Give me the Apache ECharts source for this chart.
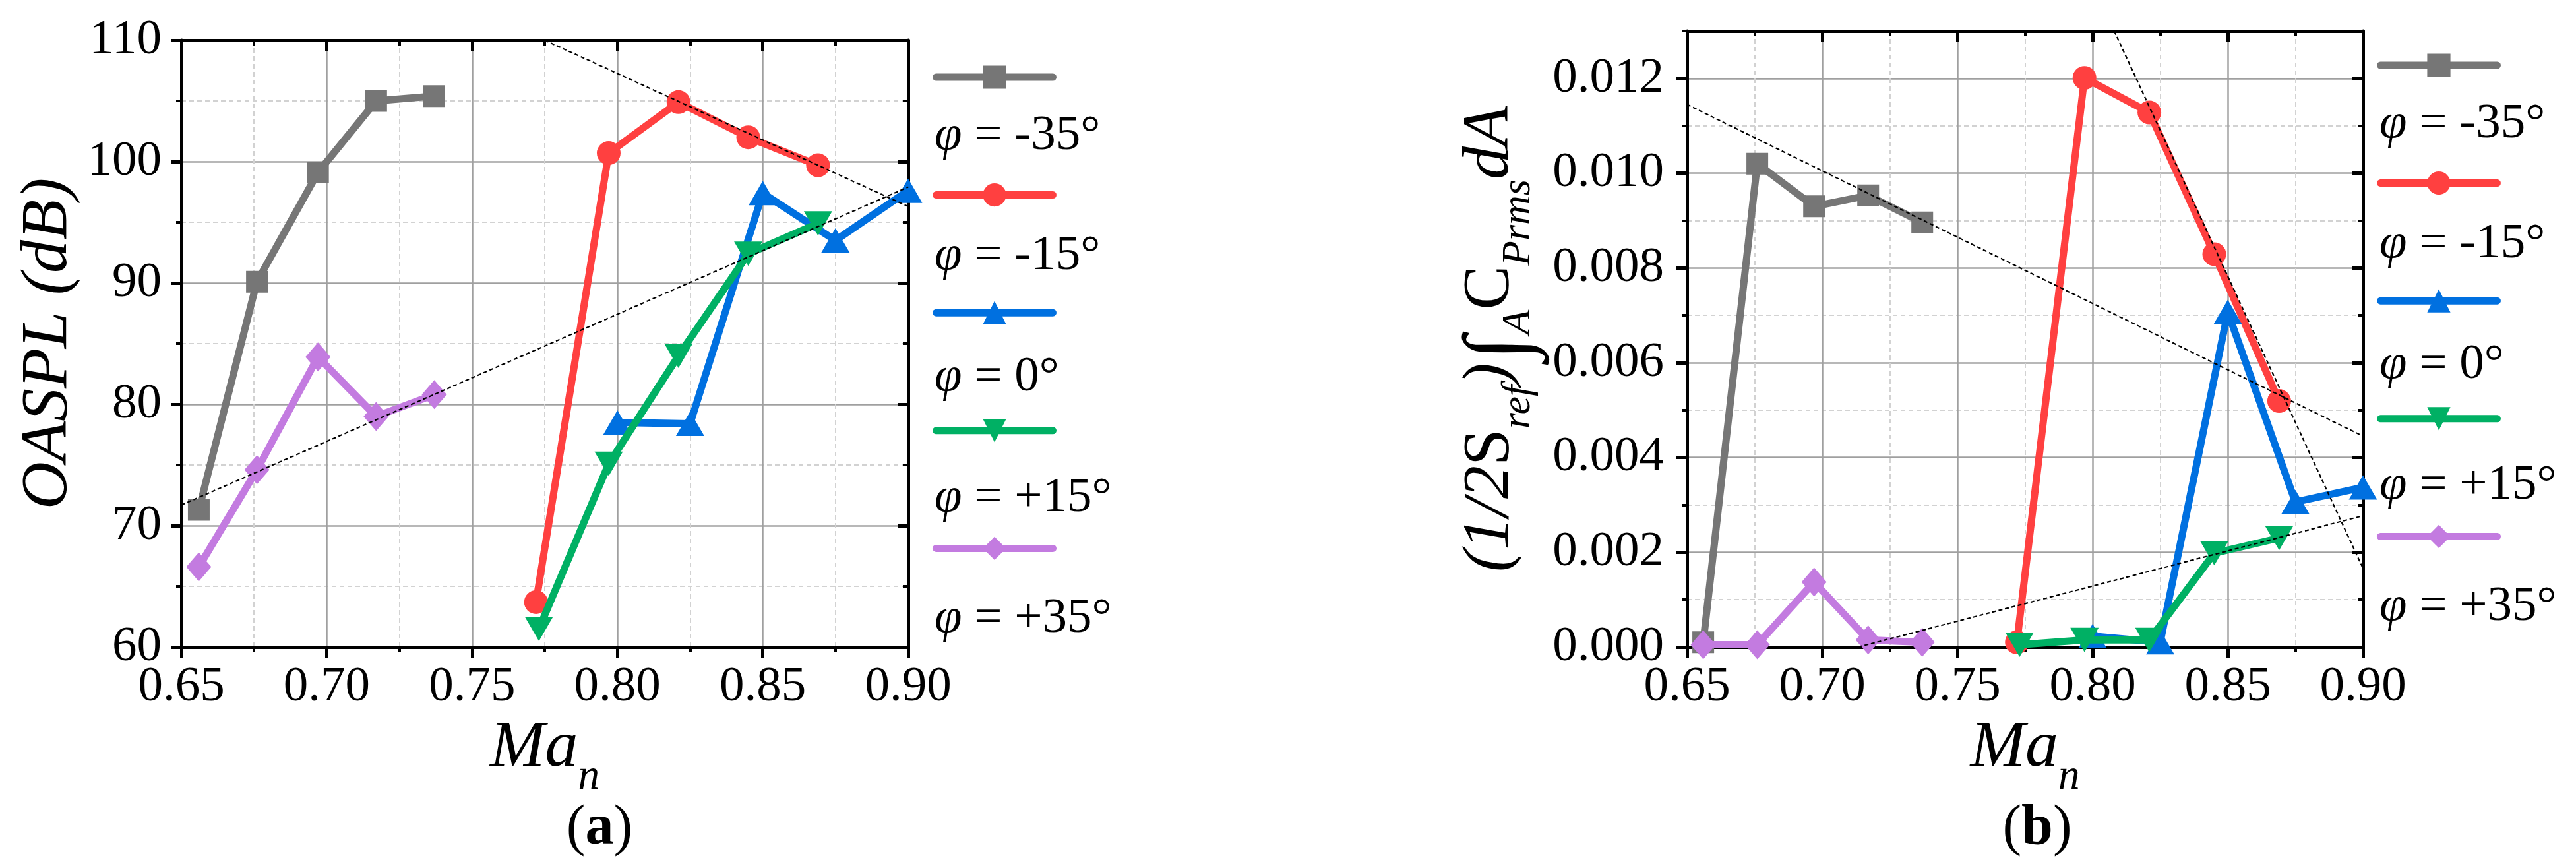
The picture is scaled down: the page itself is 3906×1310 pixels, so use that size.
<!DOCTYPE html>
<html><head><meta charset="utf-8">
<script src="https://cdn.jsdelivr.net/npm/echarts@6/dist/echarts.min.js"></script>
<style>html,body{margin:0;padding:0;background:#fff}#c{width:3906px;height:1310px}</style>
</head><body><div id="c"></div>
<script>
// ---------- data ----------
const names = ['φ = -35°', 'φ = -15°', 'φ = 0°', 'φ = +15°', 'φ = +35°'];
const labelTexts = ['{p|φ} = -35°', '{p|φ} = -15°', '{p|φ} = 0°', '{p|φ} = +15°', '{p|φ} = +35°'];

// Ma_n positions of each series
const xM35 = [0.656, 0.676, 0.697, 0.717, 0.737];
const xM15 = [0.772, 0.797, 0.821, 0.845, 0.869];
const x0   = [0.800, 0.825, 0.850, 0.875, 0.900];
const xP15 = [0.773, 0.797, 0.821, 0.845, 0.869];
const xP35 = [0.656, 0.676, 0.697, 0.717, 0.737];

// (a) OASPL (dB)
const aM35 = [71.3, 90.1, 99.1, 105.0, 105.4];
const aM15 = [63.7, 100.7, 104.9, 102.0, 99.7];
const a0   = [78.5, 78.4, 97.4, 93.5, 97.6];
const aP15 = [61.5, 75.1, 84.0, 92.4, 94.9];
const aP35 = [66.6, 74.6, 83.9, 79.0, 80.8];

// (b) integrated Cp_rms
const bM35 = [0.0001, 0.0102, 0.0093, 0.00953, 0.00896];
const bM15 = [0.0001, 0.01201, 0.01128, 0.00829, 0.00519];
const b0   = [0.00023, 0.0001, 0.00707, 0.00306, 0.00337];
const bP15 = [0.00005, 0.00015, 0.00015, 0.00198, 0.0023];
const bP35 = [0.00005, 0.00005, 0.00137, 0.00015, 0.0001];

// dashed guide lines
const aGuide1X = [0.775, 0.90],  aGuide1Y = [110, 96.3];
const aGuide2X = [0.65, 0.90],   aGuide2Y = [71.7, 97.9];
const bGuide1X = [0.65, 0.90],   bGuide1Y = [0.01145, 0.00445];
const bGuide2X = [0.7133, 0.90], bGuide2Y = [0, 0.00277];
const bGuide3X = [0.808, 0.90],  bGuide3Y = [0.0130, 0.00166];

// axis ticks
const xTicks = [0.65, 0.70, 0.75, 0.80, 0.85, 0.90];
const aYTicks = [60, 70, 80, 90, 100, 110];
const bYTicks = [0, 0.002, 0.004, 0.006, 0.008, 0.010, 0.012];

// ---------- styles ----------
const FONT = "'Liberation Serif', 'Times New Roman', serif";
const colors = ['#767676', '#ff4040', '#0070e0', '#00b064', '#c37be0'];
const symbols = ['rect', 'circle', 'triangle', 'triangle', 'diamond'];
const symbolSizes = [33, 36, [43, 37], [43, 37], [38, 44]];
const symbolRotates = [0, 0, 0, 180, 0];
const GMAJ = '#a0a0a0', GMIN = '#d2d2d2';
const AX = {color: '#000', width: 5};

const zip = (xs, ys) => xs.map((x, i) => [x, ys[i]]);

function xBottom(g) {
  return {
    type: 'value', gridIndex: g, position: 'bottom',
    min: xTicks[0], max: xTicks[xTicks.length - 1], interval: 0.05,
    axisLine: {onZero: false, lineStyle: AX},
    axisTick: {length: 16, lineStyle: AX},
    minorTick: {show: true, splitNumber: 2, length: 8, lineStyle: {color: '#000', width: 4}},
    splitLine: {show: true, lineStyle: {color: GMAJ, width: 2.5}},
    minorSplitLine: {show: true, lineStyle: {color: GMIN, width: 2, type: [7, 5]}},
    axisLabel: {fontFamily: FONT, fontSize: 75, color: '#000', margin: 24,
      formatter: v => v.toFixed(2)},
    name: '{i|Ma}{s|n}', nameLocation: 'middle', nameGap: 87,
    nameTextStyle: {
      rich: {
        i: {fontFamily: FONT, fontStyle: 'italic', fontSize: 100, color: '#000', lineHeight: 110, verticalAlign: 'top'},
        s: {fontFamily: FONT, fontStyle: 'italic', fontSize: 65, color: '#000', lineHeight: 62, padding: [62, 0, 0, 0], verticalAlign: 'top'}
      }
    }
  };
}
function xTop(g) {
  return {
    type: 'value', gridIndex: g, position: 'top',
    min: xTicks[0], max: xTicks[xTicks.length - 1], interval: 0.05,
    axisLine: {onZero: false, lineStyle: AX},
    axisTick: {inside: true, length: 16, lineStyle: AX},
    minorTick: {show: true, splitNumber: 2, length: 8, lineStyle: {color: '#000', width: 4}},
    splitLine: {show: false}, axisLabel: {show: false}
  };
}

const richMain = {fontFamily: FONT, fontSize: 100, color: '#000', lineHeight: 110, verticalAlign: 'top'};
const richSub = {fontFamily: FONT, fontStyle: 'italic', fontSize: 62, color: '#000', lineHeight: 62, padding: [62, 0, 0, 0], verticalAlign: 'top'};
const richInt = {fontFamily: FONT, fontSize: 135, color: '#000', lineHeight: 110, verticalAlign: 'top', padding: [0, 2, 0, 4]};

const yAxes = [
  { // 0: panel a left
    type: 'value', gridIndex: 0, position: 'left',
    min: aYTicks[0], max: aYTicks[aYTicks.length - 1], interval: 10,
    axisLine: {onZero: false, lineStyle: AX},
    axisTick: {length: 16, lineStyle: AX},
    minorTick: {show: true, splitNumber: 2, length: 8, lineStyle: {color: '#000', width: 4}},
    splitLine: {show: true, lineStyle: {color: GMAJ, width: 2.5}},
    minorSplitLine: {show: true, lineStyle: {color: GMIN, width: 2, type: [7, 5]}},
    axisLabel: {fontFamily: FONT, fontSize: 75, color: '#000', margin: 30},
    name: 'OASPL (dB)', nameLocation: 'middle', nameGap: 141,
    nameTextStyle: {fontFamily: FONT, fontStyle: 'italic', fontSize: 100, color: '#000', lineHeight: 110}
  },
  { // 1: panel a right
    type: 'value', gridIndex: 0, position: 'right',
    min: aYTicks[0], max: aYTicks[aYTicks.length - 1], interval: 10,
    axisLine: {onZero: false, lineStyle: AX},
    axisTick: {inside: true, length: 16, lineStyle: AX},
    minorTick: {show: true, splitNumber: 2, length: 8, lineStyle: {color: '#000', width: 4}},
    splitLine: {show: false}, axisLabel: {show: false}
  },
  { // 2: panel b left (major)
    type: 'value', gridIndex: 1, position: 'left',
    min: 0, max: 0.013, interval: 0.002,
    axisLine: {onZero: false, lineStyle: AX},
    axisTick: {length: 16, lineStyle: AX},
    splitLine: {show: true, lineStyle: {color: GMAJ, width: 2.5}},
    axisLabel: {fontFamily: FONT, fontSize: 75, color: '#000', margin: 35, showMaxLabel: false,
      formatter: v => (v > 0.0125 ? '' : v.toFixed(3))},
    name: '{i|(1/2}{n|S}{s|ref}{i|)}{g|∫}{s|A}{n|C}{s|Prms}{i|dA}',
    nameLocation: 'middle', nameGap: 238,
    nameTextStyle: {
      rich: {
        n: richMain,
        i: Object.assign({}, richMain, {fontStyle: 'italic'}),
        s: richSub,
        g: richInt
      }
    }
  },
  { // 3: panel b right
    type: 'value', gridIndex: 1, position: 'right',
    min: 0, max: 0.013, interval: 0.002,
    axisLine: {onZero: false, lineStyle: AX},
    axisTick: {inside: true, length: 16, lineStyle: AX},
    minorTick: {show: true, splitNumber: 2, length: 8, lineStyle: {color: '#000', width: 4}},
    splitLine: {show: false}, axisLabel: {show: false}
  },
  { // 4: panel b left minor helper
    type: 'value', gridIndex: 1, position: 'left',
    min: 0, max: 0.013, interval: 0.001,
    axisLine: {show: false},
    axisTick: {length: 8, lineStyle: {color: '#000', width: 4}},
    splitLine: {show: true, lineStyle: {color: ['rgba(0,0,0,0)', GMIN], width: 2, type: [7, 5]}},
    axisLabel: {show: false}
  }
];

const aY = [aM35, aM15, a0, aP15, aP35];
const bY = [bM35, bM15, b0, bP15, bP35];
const xs = [xM35, xM15, x0, xP15, xP35];

const series = [];
[0, 1].forEach(panel => {
  const ys = panel === 0 ? aY : bY;
  names.forEach((n, i) => {
    series.push({
      type: 'line', name: n,
      xAxisIndex: panel === 0 ? 0 : 2, yAxisIndex: panel === 0 ? 0 : 2,
      data: zip(xs[i], ys[i]),
      color: colors[i],
      symbol: symbols[i], symbolSize: symbolSizes[i], symbolRotate: symbolRotates[i],
      showAllSymbol: true,
      lineStyle: {width: 11, color: colors[i], cap: 'round', join: 'round'},
      itemStyle: {color: colors[i]},
      z: 2 + i, clip: true
    });
  });
});
function guide(xa, ya, xi, yi) {
  return {type: 'line', xAxisIndex: xi, yAxisIndex: yi, data: zip(xa, ya), showSymbol: false, symbol: 'none',
    lineStyle: {color: '#000', width: 2.2, type: [6, 4]}, z: 10, silent: true, clip: true};
}
series.push(guide(aGuide1X, aGuide1Y, 0, 0));
series.push(guide(aGuide2X, aGuide2Y, 0, 0));
series.push(guide(bGuide1X, bGuide1Y, 2, 2));
series.push(guide(bGuide2X, bGuide2Y, 2, 2));
series.push(guide(bGuide3X, bGuide3Y, 2, 2));

function legendCfg(left, top) {
  return {
    left: left, top: top, orient: 'vertical',
    itemWidth: 177, itemHeight: 44, itemGap: 139,
    data: names, formatter: () => '', textStyle: {fontSize: 1},
    selectedMode: false, lineStyle: {width: 11, cap: 'round'}
  };
}

const graphics = [];
function legendLabels(x, lineYs) {
  lineYs.forEach((ly, i) => {
    graphics.push({
      type: 'text', x: x, y: ly + 94,
      style: {text: labelTexts[i], fontFamily: FONT, fontSize: 75, fill: '#000',
        textVerticalAlign: 'middle', textAlign: 'left',
        rich: {p: {fontFamily: FONT, fontStyle: 'italic', fontSize: 75}}}
    });
  });
}
legendLabels(1417, [112, 294, 478, 661, 844]);
legendLabels(3608, [94, 276, 459, 642, 826]);
[['(', 'a', ')', 909], ['(', 'b', ')', 3089]].forEach(c => {
  graphics.push({
    type: 'text', x: c[3], y: 1257,
    style: {text: '{n|(}{b|' + c[1] + '}{n|)}', textAlign: 'center', textVerticalAlign: 'middle',
      rich: {n: {fontFamily: FONT, fontSize: 86, color: '#000'},
             b: {fontFamily: FONT, fontSize: 86, fontWeight: 'bold', color: '#000'}}}
  });
});

const chart = echarts.init(document.getElementById('c'), null, {renderer: 'canvas'});
chart.setOption({
  animation: false,
  backgroundColor: '#fff',
  grid: [
    {left: 275, top: 61, width: 1102, height: 920},
    {left: 2558, top: 47, width: 1025, height: 934}
  ],
  xAxis: [xBottom(0), xTop(0), xBottom(1), xTop(1)],
  yAxis: yAxes,
  legend: [legendCfg(1409, 90), legendCfg(3599, 72)],
  series: series,
  graphic: graphics
});
</script></body></html>
